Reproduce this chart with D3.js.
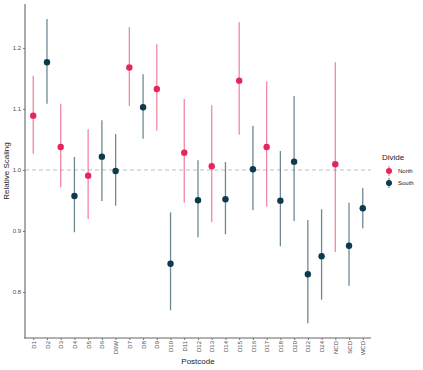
<!DOCTYPE html>
<html><head><meta charset="utf-8">
<script src="https://cdn.jsdelivr.net/npm/d3@7"></script>
<style>body{margin:0;background:#fff;} svg{display:block;font-family:"Liberation Sans",Arial,sans-serif;}</style>
</head><body>
<svg id="c" width="423" height="370"></svg>
<script>
const postcodes = ["D1","D2","D3","D4","D5","D6","D6W","D7","D8","D9","D10","D11","D12","D13","D14","D15","D16","D17","D18","D20","D22","D24","NCD","SCD","WCD"];
const divide = ["North","South","North","South","North","South","South","North","South","North","South","North","South","North","South","North","South","North","South","South","South","South","North","South","South"];
const estimate = [1.089,1.1765,1.0377,0.9574,0.9907,1.0218,0.9984,1.168,1.1028,1.1328,0.8464,1.0284,0.9503,1.006,0.952,1.1464,1.0011,1.0377,0.9497,1.0136,0.829,0.8585,1.0093,0.8759,0.9372];
const upper = [1.1546,1.2475,1.1087,1.0213,1.0667,1.0815,1.059,1.2344,1.157,1.206,0.9306,1.1164,1.0159,1.106,1.0131,1.2421,1.0726,1.1454,1.0311,1.1213,0.918,0.9356,1.1765,0.9464,0.9705];
const lower = [1.0267,1.1087,0.9716,0.8979,0.9197,0.9492,0.9415,1.105,1.0513,1.0645,0.77,0.9464,0.8897,0.9142,0.8946,1.0579,0.9339,0.9399,0.8749,0.9164,0.7487,0.7874,0.8656,0.8103,0.9044];
const yTicks = [0.8,0.9,1.0,1.1,1.2];
const groups = ["North","South"];
const colors = ["#E8245C","#0D3A4D"];

const svg = d3.select("#c");
const L = 25, R = 371, T = 4, B = 338;
const x = d3.scaleBand().domain(postcodes).range([L,R]).paddingOuter(0.1).paddingInner(0);
// ggplot expand: 0.6 units each side
const step = (R-L)/(postcodes.length-1+1.2);
const xc = d => L + 0.6*step + postcodes.indexOf(d)*step;
const y = d3.scaleLinear().domain([0.7246,1.272]).range([B,T]);
const col = d3.scaleOrdinal().domain(groups).range(colors);

// reference line
svg.append("line").attr("x1",L).attr("x2",R).attr("y1",y(1)).attr("y2",y(1))
  .attr("stroke","#bdbdbd").attr("stroke-width",1).attr("stroke-dasharray","4,3");

const data = postcodes.map((p,i)=>({p,g:divide[i],e:estimate[i],u:upper[i],l:lower[i]}));
svg.append("g").selectAll("line").data(data).join("line")
  .attr("x1",d=>xc(d.p)).attr("x2",d=>xc(d.p))
  .attr("y1",d=>y(d.u)).attr("y2",d=>y(d.l))
  .attr("stroke",d=>col(d.g)).attr("stroke-opacity",d=>d.g==="North"?0.55:0.6).attr("stroke-width",1.3);
svg.append("g").selectAll("circle").data(data).join("circle")
  .attr("cx",d=>xc(d.p)).attr("cy",d=>y(d.e)).attr("r",3.2)
  .attr("fill",d=>col(d.g));

// axes
const yAxis = svg.append("g").attr("transform",`translate(${L},0)`)
  .call(d3.axisLeft(y).tickValues(yTicks).tickFormat(d3.format(".1f")).tickSize(2).tickPadding(2));
const xAxis = svg.append("g").attr("transform",`translate(0,${B})`)
  .call(d3.axisBottom(d3.scalePoint().domain(postcodes).range([xc(postcodes[0]),xc(postcodes[postcodes.length-1])])).tickSize(2).tickPadding(2));
[yAxis,xAxis].forEach(a=>{
  a.select(".domain").remove();
  a.selectAll(".tick line").attr("stroke","#555").attr("stroke-width",0.8);
  a.selectAll(".tick text").attr("fill","#4d4d4d").style("font-size","6px");
});
xAxis.selectAll(".tick text").attr("transform","rotate(-90)").attr("text-anchor","end")
  .attr("x",-3).attr("y",0).attr("dy","0.35em");
svg.append("line").attr("x1",L).attr("x2",L).attr("y1",T).attr("y2",B+0.5).attr("stroke","#666").attr("stroke-width",1.1);
svg.append("line").attr("x1",L-0.5).attr("x2",R).attr("y1",B).attr("y2",B).attr("stroke","#666").attr("stroke-width",1.1);

// titles
svg.append("text").attr("x",(L+R)/2).attr("y",364).attr("text-anchor","middle")
  .style("font-size","8px").attr("fill","#222").text("Postcode");
svg.append("text").attr("transform",`translate(9,${(T+B)/2}) rotate(-90)`).attr("text-anchor","middle")
  .style("font-size","8px").attr("fill","#222").text("Relative Scaling");

// legend
const lg = svg.append("g");
lg.append("text").attr("x",382).attr("y",160).style("font-size","8px").attr("fill","#222").text("Divide");
groups.forEach((g,i)=>{
  const yy = 171 + i*12;
  lg.append("line").attr("x1",389).attr("x2",389).attr("y1",yy-5).attr("y2",yy+5)
    .attr("stroke",col(g)).attr("stroke-opacity",0.55).attr("stroke-width",1.3);
  lg.append("circle").attr("cx",389).attr("cy",yy).attr("r",3).attr("fill",col(g));
  lg.append("text").attr("x",398).attr("y",yy+2).style("font-size","6px").attr("fill","#222").text(g);
});
</script>
</body></html>
